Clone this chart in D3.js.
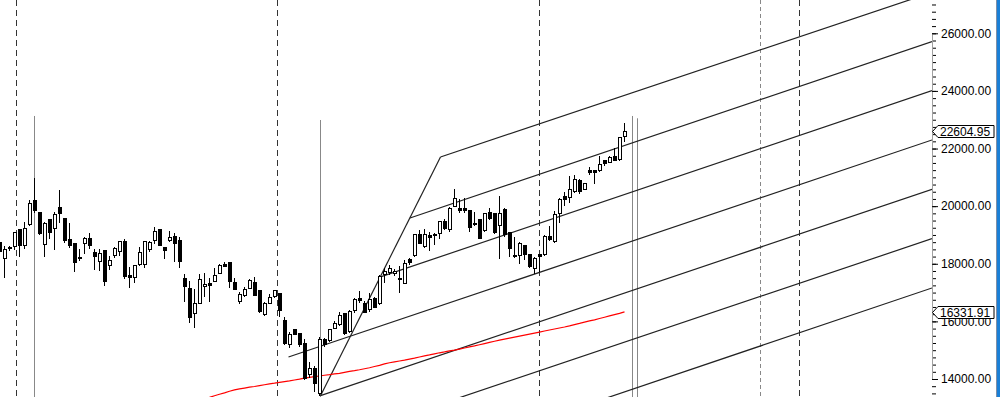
<!DOCTYPE html>
<html>
<head>
<meta charset="utf-8">
<script src="https://d3js.org/d3.v7.min.js"></script>
<style>
    body { margin: 0; background: #fff; overflow: hidden; }
    svg { display: block; }
    .axis text { font-family: "Liberation Sans", Arial, sans-serif; font-size: 12px; fill: #000; }
</style>
</head>
<body>
<div id="chart"></div>
<script>

// candles, one per bar (bar 0 is the one cut by the left edge)
var opens = [18722, 18190, 18524, 18593, 19173, 18628, 19371, 20190, 19787, 18676,
    19544, 19232, 19961, 19579, 18826, 18711, 18225, 18711, 18885, 18399,
    18072, 18444, 17947, 18281, 18433, 18756, 17576, 17531, 17982, 17982,
    18503, 18791, 19173, 18572, 18801, 18940, 18791, 17472, 17149, 16257,
    16604, 17219, 17323, 17392, 17670, 17958, 18052, 17357, 16698, 16906,
    17149, 17357, 17066, 16247, 16628, 16858, 16976, 16014, 15205, 15702,
    15587, 15240, 14140, 14372, 13505, 15355, 15330, 15747, 15875, 16281,
    15643, 16372, 16802, 16628, 16396, 16802, 16604, 17611, 17691, 17645,
    17496, 17323, 18131, 18281, 19022, 18593, 18965, 19022, 19058, 19461,
    19173, 19982, 19902, 19926, 19843, 19405, 19520, 19149, 19773, 19752,
    19322, 19867, 19093, 18295, 18270, 18628, 18305, 17843, 18305, 18305,
    18940, 18766, 19752, 20329, 20308, 20503, 20884, 20585, 21221, 21221,
    21221, 21568, 21523, 21717, 21627, 22435];
var highs = [18826, 18628, 18628, 19114, 19207, 19440, 20214, 20978, 19787, 19461,
    19544, 19787, 20561, 19579, 19405, 18711, 18503, 18940, 19079, 18513,
    18513, 18444, 18270, 18593, 18791, 18850, 17899, 17958, 18593, 18791,
    18801, 19266, 19190, 18572, 19138, 19079, 18940, 17635, 17402, 17125,
    17645, 17670, 17517, 17843, 17993, 18052, 18052, 17517, 17031, 17205,
    17462, 17531, 17066, 16684, 16951, 17090, 16996, 16163, 15643, 15702,
    15610, 15379, 14601, 14452, 15469, 15414, 15736, 16024, 16337, 16302,
    16396, 16823, 17055, 16719, 16976, 16858, 17611, 17843, 17958, 17809,
    17923, 18131, 18190, 19022, 19173, 19197, 19114, 19058, 19495, 19544,
    19982, 20596, 20238, 20273, 19843, 19808, 19520, 19776, 19926, 19752,
    20353, 19926, 19093, 18940, 18768, 18652, 18340, 18246, 18330, 18999,
    19312, 19832, 20273, 20503, 21047, 21082, 20933, 20794, 21370, 21221,
    21741, 21568, 21741, 22009, 22414, 22897];
var lows = [18236, 17517, 18444, 18478, 18225, 18513, 19322, 19752, 18999, 18246,
    18860, 18478, 19405, 18711, 18558, 17725, 18097, 18340, 18513, 17784,
    17760, 17239, 17784, 18211, 18270, 17472, 17170, 17323, 17923, 17843,
    18420, 18676, 18610, 18177, 18756, 18052, 17864, 16684, 15955, 15782,
    16594, 16837, 16663, 17357, 17635, 17878, 17170, 17090, 16604, 16837,
    17125, 16892, 16281, 16198, 16604, 16823, 16142, 15181, 15067, 15528,
    15122, 13966, 14025, 13560, 13411, 15112, 15296, 15726, 15841, 15528,
    15587, 16281, 16628, 16281, 16337, 16455, 16569, 17323, 17611, 17576,
    16976, 17298, 17958, 18246, 18676, 18558, 18444, 18652, 18850, 19173,
    19114, 19960, 19752, 19773, 19114, 19301, 18860, 19100, 19520, 19050,
    18155, 18940, 18246, 18190, 17993, 18131, 17843, 17645, 17725, 18281,
    18801, 18731, 19426, 20016, 20099, 20447, 20422, 20561, 21082, 20759,
    21197, 21405, 21488, 21568, 21578, 22238];
var closes = [18409, 18503, 18572, 19093, 18642, 19232, 20099, 19843, 19058, 19405,
    19093, 19718, 19752, 18801, 18628, 18052, 18177, 18885, 18628, 18246,
    18340, 17378, 18107, 18537, 18756, 17552, 17517, 17923, 18399, 18756,
    18746, 19128, 18628, 18454, 18919, 18711, 18072, 17205, 16142, 16628,
    17437, 17288, 17239, 17586, 17934, 17913, 17378, 17114, 16927, 17090,
    17402, 16892, 16351, 16628, 16837, 17055, 16372, 15240, 15528, 15553,
    15181, 14025, 14372, 13827, 15379, 15198, 15702, 15910, 16212, 15587,
    16337, 16743, 16719, 16302, 16743, 16490, 17552, 17725, 17843, 17725,
    17437, 18017, 18052, 18999, 18711, 18999, 18919, 18975, 19461, 19232,
    19902, 20273, 19843, 19866, 19266, 19347, 18860, 19728, 19555, 19079,
    19752, 18999, 18513, 18246, 18711, 18305, 17899, 18190, 18260, 18940,
    18826, 19718, 20214, 20238, 20585, 20908, 20503, 20769, 21176, 21162,
    21453, 21488, 21696, 21568, 22390, 22604.95];

// moving average, starting at bar maStart
var maStart = 42;
var maValues = [13360, 13420, 13470, 13520, 13575, 13625, 13655, 13685, 13715, 13740,
    13770, 13800, 13830, 13855, 13885, 13910, 13935, 13965, 13995, 14030,
    14055, 14080, 14105, 14130, 14150, 14175, 14195, 14230, 14265, 14290,
    14320, 14355, 14390, 14435, 14475, 14525, 14565, 14595, 14625, 14655,
    14690, 14725, 14765, 14800, 14835, 14875, 14910, 14940, 14975, 15005,
    15040, 15075, 15115, 15150, 15190, 15230, 15270, 15310, 15350, 15385,
    15420, 15455, 15490, 15525, 15560, 15595, 15630, 15665, 15700, 15735,
    15770, 15805, 15845, 15890, 15930, 15975, 16015, 16055, 16100, 16145,
    16190, 16235, 16280, 16331.91];

var majorTicks = [14000, 16000, 18000, 20000, 22000, 24000, 26000];
var lastLabels = [22604.95, 16331.91];

// period separators and markers, in bar units
var darkDashed = [3.4, 55.6, 108, 160];
var lightDashed = [152.2];
var markerBars = [7, 64.2, 126.6, 127.6];
var markerTops = [23130, 22990, 23130, 23050];

// pitchfork drawing: [bar, price] pairs
var forkHandle = [[64.2, 13421], [88.2, 21707]];
var forkLines = [
    [[88.2, 21707], [186.5, 27420]],
    [[82.1, 19589], [186.5, 25709]],
    [[76.2, 17545], [186.5, 24008]],
    [[57.8, 14762], [186.5, 22297]],
    [[64.2, 13421], [186.5, 20585]],
    [[89, 13177], [186.5, 18871]],
    [[119, 13200], [186.5, 17160]]
];

var W = 1003, H = 397, axisX = 932;

var svg = d3.select("#chart").append("svg")
    .attr("width", W)
    .attr("height", H);

var x = d3.scaleLinear().domain([0, 125]).range([-0.5, 624.5]);
var y = d3.scaleLinear().domain([14000, 26000]).range([379, 33.3]);

svg.append("defs").append("clipPath").attr("id", "plot")
    .append("rect").attr("x", 0).attr("y", 0).attr("width", axisX).attr("height", H);

var plot = svg.append("g").attr("clip-path", "url(#plot)");

// vertical separators
plot.selectAll("line.dash").data(darkDashed).enter().append("line")
    .attr("class", "dash")
    .attr("x1", function (d) { return x(d); })
    .attr("x2", function (d) { return x(d); })
    .attr("y1", 0).attr("y2", H)
    .style("stroke", "#333").style("stroke-width", 1)
    .style("stroke-dasharray", "6,4");

plot.selectAll("line.ldash").data(lightDashed).enter().append("line")
    .attr("class", "ldash")
    .attr("x1", function (d) { return x(d); })
    .attr("x2", function (d) { return x(d); })
    .attr("y1", 0).attr("y2", H)
    .style("stroke", "#888").style("stroke-width", 1)
    .style("stroke-dasharray", "4,3");

plot.selectAll("line.marker").data(markerBars).enter().append("line")
    .attr("class", "marker")
    .attr("x1", function (d) { return x(d); })
    .attr("x2", function (d) { return x(d); })
    .attr("y1", function (d, i) { return y(markerTops[i]); })
    .attr("y2", H)
    .style("stroke", "#888").style("stroke-width", 1);

// pitchfork
var seg = d3.line()
    .x(function (d) { return x(d[0]); })
    .y(function (d) { return y(d[1]); });

plot.append("path").attr("d", seg(forkHandle))
    .style("fill", "none").style("stroke", "#222").style("stroke-width", 1.2);

plot.selectAll("path.fork").data(forkLines).enter().append("path")
    .attr("class", "fork")
    .attr("d", seg)
    .style("fill", "none").style("stroke", "#222").style("stroke-width", 1.2);

// moving average
plot.append("path")
    .attr("d", d3.line()
        .x(function (d, i) { return x(maStart + i); })
        .y(function (d) { return y(d); })(maValues))
    .style("fill", "none").style("stroke", "#ff0000").style("stroke-width", 1.2);

// candles
var bars = closes.map(function (c, i) {
    return {i: i, o: opens[i], h: highs[i], l: lows[i], c: c};
});

var candle = plot.append("g").attr("shape-rendering", "crispEdges")
    .selectAll("g").data(bars).enter().append("g");

candle.append("line")
    .attr("x1", function (d) { return x(d.i); })
    .attr("x2", function (d) { return x(d.i); })
    .attr("y1", function (d) { return y(d.h); })
    .attr("y2", function (d) { return y(d.l); })
    .style("stroke", "#000").style("stroke-width", 1);

candle.append("rect")
    .attr("x", function (d) { return x(d.i) - 1.5; })
    .attr("width", 3)
    .attr("y", function (d) { return y(Math.max(d.o, d.c)); })
    .attr("height", function (d) { return Math.max(1, Math.abs(y(d.o) - y(d.c))); })
    .style("fill", function (d) { return d.c >= d.o ? "#fff" : "#000"; })
    .style("stroke", "#000").style("stroke-width", 1);

// price axis
svg.append("rect").attr("x", axisX).attr("y", 0).attr("width", W - axisX).attr("height", H)
    .style("fill", "#fff");

var minor = svg.append("g").attr("class", "axis")
    .attr("transform", "translate(" + axisX + ",0)")
    .call(d3.axisRight(y).tickValues(d3.range(13000, 27500, 250)).tickSize(4).tickSizeOuter(0).tickFormat(""));

var major = svg.append("g").attr("class", "axis")
    .attr("transform", "translate(" + axisX + ",0)")
    .call(d3.axisRight(y).tickValues(majorTicks).tickSize(6).tickSizeOuter(0).tickFormat(d3.format(".2f")));

svg.selectAll(".axis .domain").style("stroke", "#a0a0a0");
svg.selectAll(".axis .tick line").style("stroke", "#000");

// last value flags
var flag = svg.selectAll("g.flag").data(lastLabels).enter().append("g")
    .attr("class", "flag axis")
    .attr("transform", function (d) { return "translate(" + axisX + "," + (Math.round(y(d)) + 0.5) + ")"; });

flag.append("path")
    .attr("d", "M0.5,0 L6,-6 L62,-6 L62,6 L6,6 Z")
    .style("fill", "#fff").style("stroke", "#000").style("stroke-width", 1);

flag.append("text")
    .attr("x", 8).attr("y", 4.5)
    .text(function (d) { return d3.format(".2f")(d); });

// window edge
svg.append("rect").attr("x", 996).attr("y", 0).attr("width", 1).attr("height", H).style("fill", "#7f8fa8");
svg.append("rect").attr("x", 997).attr("y", 0).attr("width", 3).attr("height", H).style("fill", "#1a7fd6");

</script>
</body>
</html>
